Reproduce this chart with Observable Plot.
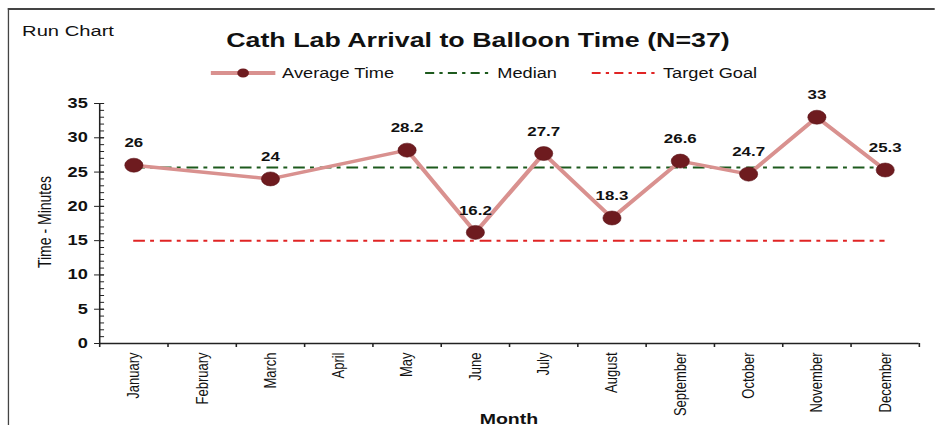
<!DOCTYPE html>
<html>
<head>
<meta charset="utf-8">
<script src="https://cdn.jsdelivr.net/npm/d3@7"></script>
<script src="https://cdn.jsdelivr.net/npm/@observablehq/plot@0.6"></script>
<style>
  html, body { margin: 0; padding: 0; background: #fff; overflow: hidden; }
  /* the reference is horizontally stretched ~1.3x; design at 719px wide and stretch */
  #wrap { position: relative; width: 719px; height: 425px; overflow: hidden; transform: scaleX(1.3); transform-origin: 0 0; font-family: "Liberation Sans", Arial, sans-serif; }
  #frame { position: absolute; left: 6.2px; top: 8px; width: 760px; height: 430px; border-left: 1.6px solid #444; border-top: 2px solid #444; }
  #chart { position: absolute; left: 0; top: 0; }
  .abs { position: absolute; white-space: nowrap; color: #111; }
  #runchart { left: 17px; top: 22px; font-size: 15.5px; }
  #title { left: 0; width: 735.4px; text-align: center; top: 28px; font-size: 20.6px; font-weight: bold; }
  #ylabel { left: 33.8px; top: 222px; font-size: 14px; transform: translate(-50%, -50%) rotate(-90deg); font-family: "Liberation Sans Narrow", "Arial Narrow", "Liberation Sans", sans-serif; }
  #xlabel { left: 391.5px; top: 418px; transform: translate(-50%, -50%); font-size: 15px; font-weight: bold; }
  .leg { top: 64px; font-size: 14px; display: flex; align-items: center; }
  .leg svg { margin-right: 5.5px; }
</style>
</head>
<body>
<div id="wrap">
  <div id="frame"></div>
  <div id="chart"></div>
  <div class="abs" id="runchart">Run Chart</div>
  <div class="abs" id="title">Cath Lab Arrival to Balloon Time (N=37)</div>
  <div class="abs" id="ylabel">Time - Minutes</div>
  <div class="abs" id="xlabel">Month</div>
  <div class="abs leg" style="left:161.5px"><svg width="50" height="18"><line x1="0" y1="9" x2="50" y2="9" stroke="#d9918f" stroke-width="4"/><circle cx="25" cy="9" r="4.5" fill="#6e1b1f"/></svg>Average Time</div>
  <div class="abs leg" style="left:327px"><svg width="50" height="18"><line x1="0" y1="9" x2="50" y2="9" stroke="#1d5a1d" stroke-width="2" stroke-dasharray="7,4,2.5,4"/></svg>Median</div>
  <div class="abs leg" style="left:454.5px"><svg width="50" height="18"><line x1="0" y1="9" x2="50" y2="9" stroke="#e02424" stroke-width="2" stroke-dasharray="7,4,2.5,4"/></svg>Target Goal</div>
</div>
<script>
const months = ["January","February","March","April","May","June","July","August","September","October","November","December"];
const averageTime = [26, null, 24, null, 28.2, 16.2, 27.7, 18.3, 26.6, 24.7, 33, 25.3];
const targetGoal = 15;
const yMajorTicks = [0, 5, 10, 15, 20, 25, 30, 35];

const data = months.map((m, i) => ({month: m, xi: i + 0.5, value: averageTime[i]})).filter(d => d.value != null);
const median = d3.median(data, d => d.value);
const firstX = 0.5, lastX = months.length - 0.5;
const refLines = [
  {y: median, color: "#1d5a1d"},
  {y: targetGoal, color: "#e02424"}
];

const chart = Plot.plot({
  width: 719,
  height: 425,
  marginLeft: 76.2,
  marginRight: 12.3,
  marginTop: 103,
  marginBottom: 82,
  style: {fontFamily: "Liberation Sans, Arial, sans-serif", background: "transparent", color: "#111"},
  x: {type: "linear", domain: [0, months.length], axis: null},
  y: {domain: [0, 35], axis: null},
  marks: [
    // y axis: minor ticks (inside), major ticks (crossing), labels
    Plot.axisY({ticks: d3.range(0, 36, 1), tickSize: 3.85, dx: 3.85, tickFormat: () => "", label: null, stroke: "#222"}),
    Plot.axisY({ticks: yMajorTicks, tickSize: 7.7, dx: 3.85, tickPadding: 5.3, label: null, fontSize: 14, fontWeight: "bold", stroke: "#222"}),
    Plot.ruleX([0], {y1: 0, y2: 35, stroke: "#222", strokeWidth: 1.2}),
    // x axis
    Plot.ruleY([0], {stroke: "#222", strokeWidth: 1.5}),
    Plot.axisX({ticks: d3.range(0, months.length + 1), tickSize: 4, tickFormat: () => "", label: null, stroke: "#222", strokeWidth: 1.2}),
    Plot.axisX({ticks: months.map((m, i) => i + 0.5), tickSize: 0, tickPadding: 9, tickRotate: -90, tickFormat: v => months[Math.round(v - 0.5)], label: null, fontSize: 13, fontFamily: "Liberation Sans Narrow, Arial Narrow, Liberation Sans, sans-serif"}),
    // reference lines
    Plot.ruleY(refLines, {y: "y", x1: firstX, x2: lastX, stroke: "color", strokeWidth: 2, strokeDasharray: "9,4,3,4.5"}),
    // series
    Plot.line(data, {x: "xi", y: "value", stroke: "#d9918f", strokeWidth: 3.5}),
    Plot.dot(data, {x: "xi", y: "value", r: 7, fill: "#6e1b1f", stroke: "#5a1418", strokeWidth: 0.5}),
    Plot.text(data, {x: "xi", y: "value", text: d => String(d.value), dy: -22, fontSize: 13, fontWeight: "bold", fill: "#111"})
  ]
});
document.getElementById("chart").appendChild(chart);
</script>
</body>
</html>
